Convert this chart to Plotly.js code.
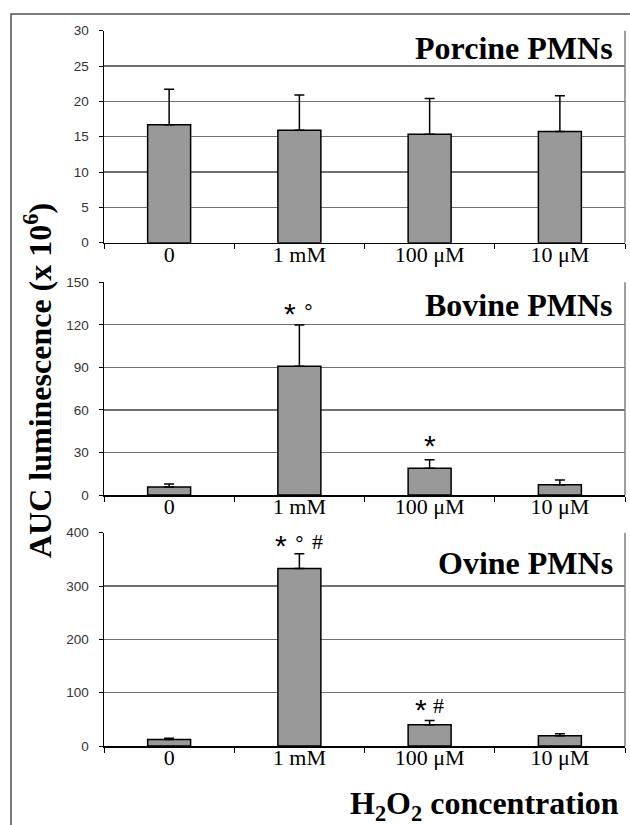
<!DOCTYPE html>
<html><head><meta charset="utf-8">
<script src="https://cdn.plot.ly/plotly-3.0.1.min.js"></script>
<style>html,body{margin:0;padding:0;background:#fff}</style>
</head><body><div id="chart" style="width:630px;height:825px"></div>
<script>
const categories = ['0', '1 mM', '100 μM', '10 μM'];
const porcineValues = [16.7, 15.9, 15.35, 15.75];
const porcineErrors = [5.0, 5.0, 5.05, 5.05];
const bovineValues = [5.6, 90.8, 18.8, 7.3];
const bovineErrors = [2.2, 29.1, 6.1, 3.3];
const ovineValues = [12, 333, 40, 19.4];
const ovineErrors = [2.5, 27.6, 8, 3.6];
const panelTitles = ['Porcine PMNs', 'Bovine PMNs', 'Ovine PMNs'];
const yTickVals = [[0, 5, 10, 15, 20, 25, 30], [0, 30, 60, 90, 120, 150], [0, 100, 200, 300, 400]];
const yRanges = [[0, 30], [0, 150], [0, 400]];
const bovineMarks = ['', '*°', '*', ''];
const ovineMarks = ['', '*°#', '*#', ''];
const yTitle = 'AUC luminescence (x 10<sup>6</sup>)';
const xTitle = 'H<sub>2</sub>O<sub>2</sub> concentration';

const W = 630, H = 825;
const xDom = [104 / W, 625 / W];
const panelsPx = [[30.7, 242.7], [282.3, 495], [532.7, 746]];
const yDoms = panelsPx.map(p => [1 - p[1] / H, 1 - p[0] / H]);
const titleShift = [-17, -23, -30];
// visual gap (px) between the error-bar cap and the symbol row
const markGap = [null, [0, 12, 15, 0], [0, 9, 12, 0]];

const values = [porcineValues, bovineValues, ovineValues];
const errors = [porcineErrors, bovineErrors, ovineErrors];
const marks = [null, bovineMarks, ovineMarks];

const serif = 'Liberation Serif, Times New Roman, serif';
const sans = 'Liberation Sans, Arial, sans-serif';

const symStyle = {
  '*': {font: {family: sans, size: 30, color: '#000'}, dy: -1},
  '°': {font: {family: sans, size: 22, color: '#000'}, dy: 0},
  '#': {font: {family: serif, size: 22, color: '#000'}, dy: 3}
};

const traces = [];
const layout = {
  width: W, height: H,
  margin: {l: 0, r: 0, t: 0, b: 0},
  paper_bgcolor: '#fff', plot_bgcolor: '#fff',
  showlegend: false,
  annotations: [], shapes: []
};

values.forEach((vals, i) => {
  const s = i === 0 ? '' : String(i + 1);
  traces.push({
    type: 'bar', x: categories, y: vals,
    xaxis: 'x' + s, yaxis: 'y' + s,
    width: 0.33,
    marker: {color: '#999999', line: {color: '#000', width: 1.5}},
    error_y: {type: 'data', symmetric: false, array: errors[i],
      arrayminus: vals.map(() => 0), color: '#000', thickness: 1.5, width: 5},
    hoverinfo: 'none'
  });
  layout['xaxis' + s] = {
    domain: xDom, anchor: 'y' + s, type: 'category',
    tickson: 'boundaries', ticks: 'outside', ticklen: 5, tickcolor: '#000', tickwidth: 1,
    ticklabelstandoff: -9,
    showline: true, linecolor: '#000', linewidth: 1.5, showgrid: false,
    tickfont: {family: serif, size: 22, color: '#000'},
    fixedrange: true
  };
  layout['yaxis' + s] = {
    domain: yDoms[i], anchor: 'x' + s, range: yRanges[i],
    tickmode: 'array', tickvals: yTickVals[i],
    ticks: 'outside', ticklen: 4, tickcolor: '#000', tickwidth: 1,
    ticklabelstandoff: 7,
    showline: true, linecolor: '#000', linewidth: 1.5,
    showgrid: true, gridcolor: '#707070', gridwidth: 1.3,
    zeroline: false,
    tickfont: {family: sans, size: 13.5, color: '#333'},
    fixedrange: true
  };
  layout.shapes.push({type: 'line', xref: 'x' + s + ' domain', yref: 'y' + s + ' domain',
    x0: 1, x1: 1, y0: 0, y1: 1, line: {color: '#808080', width: 1.5}});
  layout.annotations.push({
    xref: 'x' + s + ' domain', yref: 'y' + s + ' domain', x: 0.98, y: 1,
    xanchor: 'right', yanchor: 'middle', yshift: titleShift[i],
    text: '<b>' + panelTitles[i] + '</b>', showarrow: false,
    font: {family: serif, size: 32, color: '#000'}
  });
  if (marks[i]) {
    marks[i].forEach((m, j) => {
      if (!m) return;
      const chars = m.split('');
      chars.forEach((c, k) => {
        const st = symStyle[c];
        layout.annotations.push({
          xref: 'x' + s, yref: 'y' + s, x: categories[j], y: vals[j] + errors[i][j],
          xanchor: 'center', yanchor: 'middle',
          xshift: (k - (chars.length - 1) / 2) * 18,
          yshift: markGap[i][j] + st.dy,
          text: c, showarrow: false, font: st.font
        });
      });
    });
  }
});

layout.annotations.push({
  xref: 'paper', yref: 'paper', x: 38 / W, y: 1 - 381 / H, textangle: -90,
  xanchor: 'center', yanchor: 'middle', showarrow: false,
  text: '<b>' + yTitle + '</b>', font: {family: serif, size: 32, color: '#000'}
});
layout.annotations.push({
  xref: 'paper', yref: 'paper', x: 621 / W, y: 1 - 805 / H,
  xanchor: 'right', yanchor: 'middle', showarrow: false,
  text: '<b>' + xTitle + '</b>', font: {family: serif, size: 32, color: '#000'}
});
layout.shapes.push({type: 'rect', xref: 'paper', yref: 'paper',
  x0: 11 / W, x1: 1.05, y0: -0.05, y1: 1 - 14 / H, line: {color: '#505050', width: 1.5}});

Plotly.newPlot('chart', traces, layout, {displayModeBar: false, staticPlot: true});
</script></body></html>
